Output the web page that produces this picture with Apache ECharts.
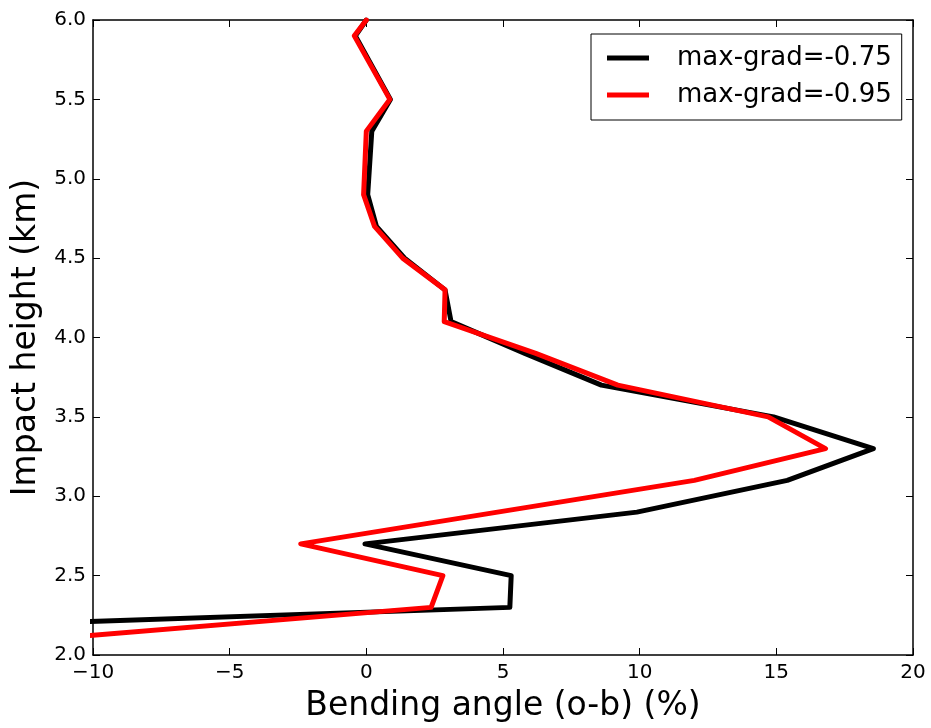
<!DOCTYPE html>
<html>
<head>
<meta charset="utf-8">
<script src="https://cdn.jsdelivr.net/npm/echarts@6/dist/echarts.min.js"></script>
<style>
html,body{margin:0;padding:0;background:#fff;}
#chart{width:931px;height:728px;}
</style>
</head>
<body>
<div id="chart"></div>
<script>
// Impact heights (km) and bending angle (o-b) (%) for each curve
var heightsA = [6.0, 5.9, 5.5, 5.3, 4.9, 4.7, 4.5, 4.3, 4.1, 3.9, 3.7, 3.5, 3.3, 3.1, 2.9, 2.7, 2.5, 2.3, 2.2];
var valuesA  = [0.0, -0.4, 0.88, 0.2, 0.05, 0.37, 1.4, 2.88, 3.1, 5.8, 8.6, 14.9, 18.55, 15.4, 9.9, -0.05, 5.3, 5.25, -12.0];
var heightsB = [6.0, 5.9, 5.5, 5.3, 4.9, 4.7, 4.5, 4.3, 4.1, 3.9, 3.7, 3.5, 3.3, 3.1, 2.7, 2.5, 2.3, 2.1];
var valuesB  = [0.0, -0.44, 0.86, 0.0, -0.1, 0.3, 1.33, 2.88, 2.85, 6.2, 9.2, 14.7, 16.8, 12.0, -2.4, 2.8, 2.37, -11.7];
var seriesNames = ['max-grad=-0.75', 'max-grad=-0.95'];
var seriesColors = ['#000000', '#ff0000'];
var xTicks = [-10, -5, 0, 5, 10, 15, 20];
var yTicks = [2.0, 2.5, 3.0, 3.5, 4.0, 4.5, 5.0, 5.5, 6.0];

function pairs(xs, ys){ var out=[]; for(var i=0;i<xs.length;i++) out.push([xs[i], ys[i]]); return out; }

var FONT = 'DejaVu Sans';
var chart = echarts.init(document.getElementById('chart'), null, {renderer:'canvas'});
var axisLineStyle = {color:'#000', width:1.5};
var tickStyle = {show:true, inside:true, length:7, lineStyle:{color:'#000', width:1}};
var option = {
  animation:false,
  backgroundColor:'#fff',
  grid:{left:93, right:18, top:20, bottom:71, containLabel:false},
  legend:{
    show:true,
    left:591, top:34,
    orient:'vertical',
    data:seriesNames,
    icon:'rect',
    itemWidth:42, itemHeight:5,
    itemGap:11,
    padding:[11,10,12,16],
    borderColor:'#000', borderWidth:1,
    backgroundColor:'#fff',
    textStyle:{fontFamily:FONT, fontSize:26, color:'#000', padding:[0,0,0,23]}
  },
  xAxis:[{
    type:'value', min:xTicks[0], max:xTicks[xTicks.length-1], interval:5,
    position:'bottom',
    name:'Bending angle (o-b) (%)', nameLocation:'middle', nameGap:35,
    nameTextStyle:{fontFamily:FONT, fontSize:33, color:'#000'},
    axisLine:{show:true, onZero:false, lineStyle:axisLineStyle},
    axisTick:tickStyle,
    splitLine:{show:false},
    axisLabel:{fontFamily:FONT, fontSize:20, color:'#000', margin:8,
      formatter:function(v){ return String(v).replace('-', '\u2212'); }}
  },{
    type:'value', min:xTicks[0], max:xTicks[xTicks.length-1], interval:5,
    position:'top',
    axisLine:{show:true, onZero:false, lineStyle:axisLineStyle},
    axisTick:tickStyle,
    splitLine:{show:false},
    axisLabel:{show:false}
  }],
  yAxis:[{
    type:'value', min:yTicks[0], max:yTicks[yTicks.length-1], interval:0.5,
    position:'left',
    name:'Impact height (km)', nameLocation:'middle', nameGap:44,
    nameTextStyle:{fontFamily:FONT, fontSize:33, color:'#000'},
    axisLine:{show:true, onZero:false, lineStyle:axisLineStyle},
    axisTick:tickStyle,
    splitLine:{show:false},
    axisLabel:{fontFamily:FONT, fontSize:20, color:'#000', margin:7,
      formatter:function(v){ return v.toFixed(1); }}
  },{
    type:'value', min:yTicks[0], max:yTicks[yTicks.length-1], interval:0.5,
    position:'right',
    axisLine:{show:true, onZero:false, lineStyle:axisLineStyle},
    axisTick:tickStyle,
    splitLine:{show:false},
    axisLabel:{show:false}
  }],
  series:[{
    name:seriesNames[0], type:'line', data:pairs(valuesA, heightsA),
    xAxisIndex:0, yAxisIndex:0,
    showSymbol:false, symbol:'none', clip:true,
    lineStyle:{color:seriesColors[0], width:5, join:'round', cap:'round'},
    itemStyle:{color:seriesColors[0]}
  },{
    name:seriesNames[1], type:'line', data:pairs(valuesB, heightsB),
    xAxisIndex:0, yAxisIndex:0,
    showSymbol:false, symbol:'none', clip:true,
    lineStyle:{color:seriesColors[1], width:5, join:'round', cap:'round'},
    itemStyle:{color:seriesColors[1]}
  }]
};
chart.setOption(option);
</script>
</body>
</html>
